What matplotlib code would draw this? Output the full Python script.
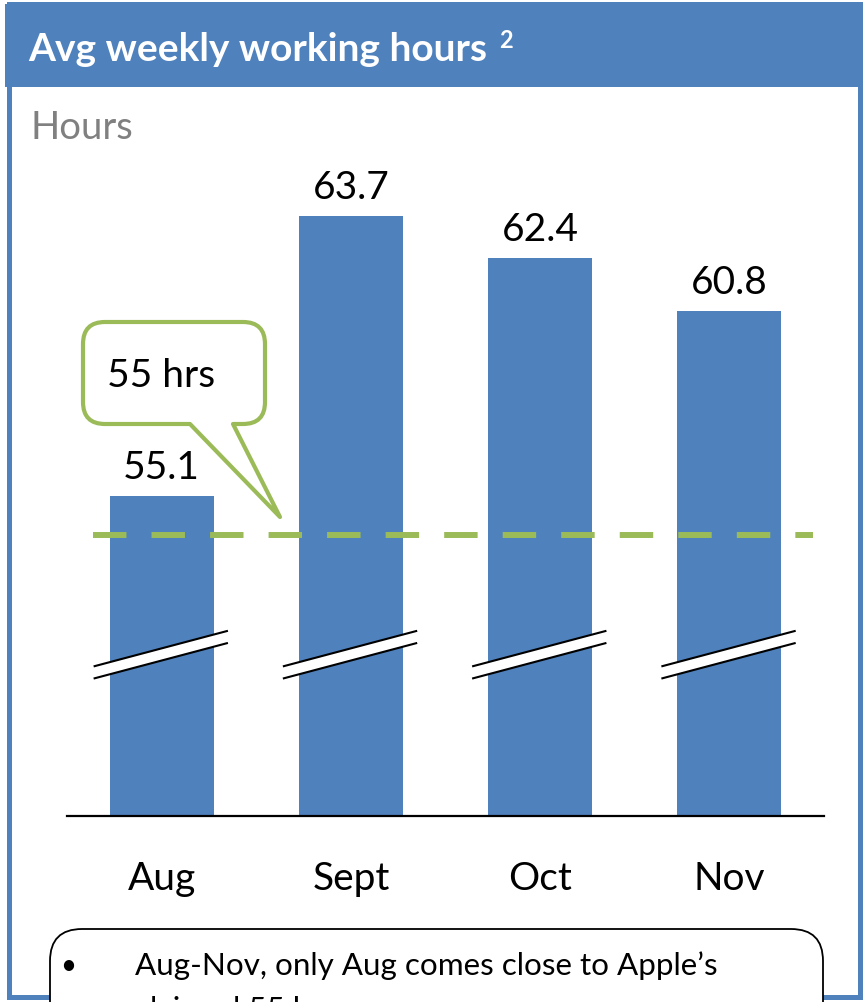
import numpy as np
import matplotlib
matplotlib.use("Agg")
import matplotlib.pyplot as plt
from matplotlib.path import Path
from matplotlib.patches import PathPatch, Rectangle, FancyBboxPatch, Polygon
import matplotlib.transforms as mtransforms

# data
months = ["Aug", "Sept", "Oct", "Nov"]
hours = [55.1, 63.7, 62.4, 60.8]
labels = ["55.1", "63.7", "62.4", "60.8"]
claimed = "55 hrs"
title = "Avg weekly working hours"
note = "Aug-Nov, only Aug comes close to Apple\u2019s"
note2 = "claimed 55 hours"

BLUE = "#4F81BD"
GREEN = "#9BBB59"
W, H = 866, 1003
plt.rcParams["font.family"] = ["Lato", "DejaVu Sans"]

fig = plt.figure(figsize=(W / 100, H / 100), dpi=100)

# overlay in pixel coordinates for the frame, bubble, note box
ov = fig.add_axes([0, 0, 1, 1])
ov.set_xlim(0, W)
ov.set_ylim(H, 0)
ov.axis("off")
ov.set_zorder(1)

ov.add_patch(Rectangle((8.5, 5), 851, 993, fill=False, ec=BLUE, lw=3.6))
ov.add_patch(Rectangle((5, 5), 857, 83, fc=BLUE, ec="none"))
ov.text(28, 49, title, color="white", fontsize=28, fontweight="bold", va="center", ha="left")
ov.text(499, 40, "2", color="white", fontsize=17, fontweight="bold", va="center", ha="left")
ov.text(30, 128, "Hours", color="#808080", fontsize=27.5, va="center", ha="left")

# speech bubble
x0, x1, y0, y1, r = 83, 265, 323, 425, 22
verts = [(x0 + r, y0), (x1 - r, y0), (x1, y0), (x1, y0 + r), (x1, y1 - r), (x1, y1), (x1 - r, y1),
         (233, y1), (280, 518), (190, y1), (x0 + r, y1), (x0, y1), (x0, y1 - r),
         (x0, y0 + r), (x0, y0), (x0 + r, y0), (x0 + r, y0)]
codes = [Path.MOVETO, Path.LINETO, Path.CURVE3, Path.CURVE3, Path.LINETO, Path.CURVE3, Path.CURVE3,
         Path.LINETO, Path.LINETO, Path.LINETO, Path.LINETO, Path.CURVE3, Path.CURVE3,
         Path.LINETO, Path.CURVE3, Path.CURVE3, Path.CLOSEPOLY]
ov.add_patch(PathPatch(Path(verts, codes), fc="white", ec=GREEN, lw=3.0, joinstyle="round"))
ov.text(161, 376, claimed, fontsize=28, ha="center", va="center")

# note box at the bottom
ov.add_patch(FancyBboxPatch((80, 960), 713, 120, boxstyle="round,pad=30,rounding_size=32",
                            fc="white", ec="black", lw=1.3))
ov.text(68, 966, "\u2022", fontsize=20, ha="center", va="center")
ov.text(135, 966, note, fontsize=22.6, ha="left", va="center")
ov.text(135, 1010, note2, fontsize=22.6, ha="left", va="center", clip_on=True)

# bar chart
ax = fig.add_axes([67 / W, (H - 817) / H, 757 / W, 675 / H])
ax.set_zorder(2)
ax.patch.set_alpha(0)
x = np.arange(len(months))
ax.bar(x, hours, width=0.55, color=BLUE, zorder=2)
ax.set_xlim(-0.5, 3.5)
ax.set_ylim(45.3, 66.0)
for s in ["top", "right", "left"]:
    ax.spines[s].set_visible(False)
ax.spines["bottom"].set_linewidth(1.6)
ax.set_yticks([])
ax.set_xticks([])

for xi, v, lab in zip(x, hours, labels):
    ax.annotate(lab, (xi, v), xytext=(0, 13), textcoords="offset points",
                ha="center", va="baseline", fontsize=28)

bt = mtransforms.blended_transform_factory(ax.transData, ax.transAxes)
for xi, m in zip(x, months):
    ax.text(xi, -0.108, m, transform=bt, ha="center", va="baseline", fontsize=28)

# dashed reference line
ax.plot([-0.363, 3.44], [0.416, 0.416], transform=bt, color=GREEN, lw=4.3,
        dashes=(5.6, 4.2), zorder=3, solid_capstyle="butt")

# axis break marks
for xi in x:
    xl, xr = xi - 0.354, xi + 0.345
    ax.add_patch(Polygon([(xl, 0.222), (xr, 0.274), (xr, 0.256), (xl, 0.204)], closed=True,
                         transform=bt, fc="white", ec="none", zorder=4))
    ax.plot([xl, xr], [0.222, 0.274], transform=bt, color="black", lw=1.5, zorder=5)
    ax.plot([xl, xr], [0.204, 0.256], transform=bt, color="black", lw=1.5, zorder=5)

fig.savefig("out.png", dpi=100)
